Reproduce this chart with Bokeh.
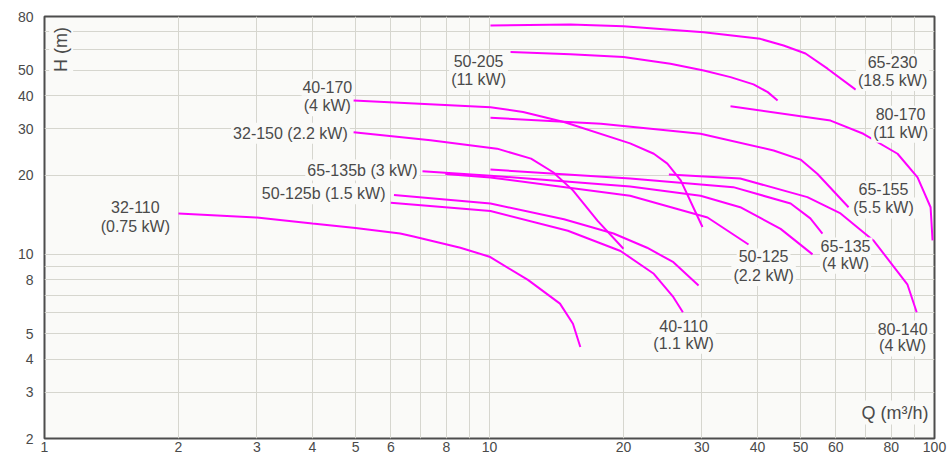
import math
from bokeh.plotting import figure
from bokeh.models import Range1d, FixedTicker, PrintfTickFormatter, Label
from bokeh.embed import file_html
from bokeh.resources import INLINE

# ---- tick values ----
x_ticks = [1, 2, 3, 4, 5, 6, 8, 10, 20, 30, 40, 50, 60, 80, 100]
y_ticks = [2, 3, 4, 5, 8, 10, 20, 30, 40, 50, 80]
x_grid = [2, 3, 4, 5, 6, 7, 8, 9, 10, 20, 30, 40, 50, 60, 70, 80, 90]
y_grid = [3, 4, 5, 6, 7, 8, 9, 10, 20, 30, 40, 50, 60, 70]

# ---- pump curves (Q in m3/h, H in m) ----
q_32_110 = [2, 3, 4, 5, 6.3, 6.75, 8.6, 10, 12.2, 14.4, 15.4, 16.0]
h_32_110 = [14.3, 13.8, 13.1, 12.6, 12.0, 11.7, 10.6, 9.8, 8.0, 6.5, 5.45, 4.45]

q_40_110 = [6.0, 10.05, 15.0, 19.7, 23.4, 25.9, 27.2]
h_40_110 = [15.7, 14.6, 12.3, 10.3, 8.44, 6.88, 6.03]

q_50_125b = [6.1, 10.05, 14.7, 19.0, 22.6, 25.9, 29.5]
h_50_125b = [16.8, 15.6, 13.6, 12.0, 10.6, 9.34, 7.62]

q_32_150 = [4.95, 7.37, 10.4, 12.4, 13.9, 15.4, 17.5, 20.0]
h_32_150 = [29.1, 27.1, 25.2, 23.1, 20.5, 17.5, 13.4, 10.5]

q_40_170 = [4.95, 10.05, 11.9, 14.7, 20.7, 23.4, 25.1, 26.9, 28.7, 30.1]
h_40_170 = [38.4, 36.2, 34.7, 31.8, 26.4, 24.1, 22.1, 19.1, 15.1, 12.7]

q_50_205 = [11.15, 15.2, 20.0, 25.5, 30.3, 34.8, 39.2, 42.2, 44.4]
h_50_205 = [58.6, 57.5, 56.1, 52.9, 49.9, 47.1, 44.2, 41.3, 38.4]

q_65_230 = [10.05, 15.2, 20, 30.3, 40.6, 45.8, 51.3, 57.5, 66.5]
h_65_230 = [74.0, 74.6, 73.5, 69.7, 65.8, 62.1, 57.9, 50.7, 42.2]

q_80_170 = [34.8, 58.4, 69.2, 82.6, 91.6, 98.0, 99.0]
h_80_170 = [36.5, 32.2, 28.7, 24.1, 19.6, 15.1, 11.3]

q_65_155 = [10.05, 17.8, 29.8, 43.5, 50.0, 54.6, 64.1]
h_65_155 = [33.0, 31.3, 28.7, 24.8, 22.9, 20.2, 15.1]

q_65_135 = [10.05, 20.7, 35.3, 47.5, 52.6, 56.0]
h_65_135 = [21.0, 19.4, 18.0, 15.6, 13.7, 12.0]

q_65_135b = [7.07, 10.05, 20.7, 29.8, 36.6, 45.1, 53.2]
h_65_135b = [20.7, 19.9, 18.1, 16.7, 15.1, 12.5, 10.0]

q_50_125 = [7.96, 10.05, 20.7, 30.9, 38.2]
h_50_125 = [20.2, 19.6, 16.7, 13.8, 10.9]

q_80_140 = [25.3, 36.6, 51.8, 61.5, 72.9, 86.9, 91.2]
h_80_140 = [20.1, 19.4, 16.5, 14.3, 11.3, 7.7, 6.03]

curves = [
    (q_32_110, h_32_110), (q_40_110, h_40_110), (q_50_125b, h_50_125b),
    (q_32_150, h_32_150), (q_40_170, h_40_170), (q_50_205, h_50_205),
    (q_65_230, h_65_230), (q_80_170, h_80_170), (q_65_155, h_65_155),
    (q_65_135, h_65_135), (q_65_135b, h_65_135b), (q_50_125, h_50_125),
    (q_80_140, h_80_140),
]

# ---- curve labels: text, Q, H ----
curve_labels = [
    ("32-110", 1.60, 15.1), ("(0.75 kW)", 1.60, 12.8),
    ("50-125b (1.5 kW)", 4.24, 17.0),
    ("65-135b (3 kW)", 5.18, 20.9),
    ("32-150 (2.2 kW)", 3.57, 28.8),
    ("40-170", 4.32, 43.1), ("(4 kW)", 4.32, 36.7),
    ("50-205", 9.45, 54.0), ("(11 kW)", 9.45, 46.0),
    ("65-230", 80.5, 53.7), ("(18.5 kW)", 80.5, 45.7),
    ("80-170", 83.9, 34.2), ("(11 kW)", 83.9, 29.1),
    ("65-155", 76.8, 17.7), ("(5.5 kW)", 76.8, 15.0),
    ("65-135", 63.1, 10.8), ("(4 kW)", 63.1, 9.26),
    ("50-125", 41.3, 9.82), ("(2.2 kW)", 41.3, 8.32),
    ("40-110", 27.3, 5.37), ("(1.1 kW)", 27.3, 4.60),
    ("80-140", 84.8, 5.23), ("(4 kW)", 84.8, 4.49),
]

BG = "#fafaf8"
TXT = "#4a4a4a"
FONT = "Liberation Sans"

p = figure(width=948, height=459, x_axis_type="log", y_axis_type="log",
           x_range=Range1d(1, 100), y_range=Range1d(2, 80),
           output_backend="svg", toolbar_location=None,
           min_border_left=44, min_border_right=14, min_border_top=16,
           min_border_bottom=21, background_fill_color=BG,
           border_fill_color="white")

p.outline_line_color = "#4d4d4d"
p.outline_line_width = 2

for ax in (p.xaxis[0], p.yaxis[0]):
    ax.axis_line_color = None
    ax.major_tick_line_color = None
    ax.minor_tick_line_color = None
    ax.major_tick_out = 0
    ax.major_label_text_font = FONT
    ax.major_label_text_font_size = "14px"
    ax.major_label_text_color = TXT
    ax.formatter = PrintfTickFormatter(format="%d")

p.xaxis[0].ticker = FixedTicker(ticks=x_ticks, minor_ticks=[])
p.yaxis[0].ticker = FixedTicker(ticks=y_ticks, minor_ticks=[])
p.xaxis[0].major_label_standoff = 3
p.yaxis[0].major_label_standoff = 11

p.xgrid[0].ticker = FixedTicker(ticks=x_grid, minor_ticks=[])
p.ygrid[0].ticker = FixedTicker(ticks=y_grid, minor_ticks=[])
for g in (p.xgrid[0], p.ygrid[0]):
    g.grid_line_color = "#d6d6cf"
    g.grid_line_width = 1

for q, h in curves:
    p.line(q, h, line_color="#ff00ff", line_width=2)

for t, x, y in curve_labels:
    p.add_layout(Label(x=x, y=y, text=t, text_align="center",
                       text_baseline="middle", text_font=FONT,
                       text_font_size="16px", text_color=TXT,
                       background_fill_color=BG, padding=2))

p.add_layout(Label(x=1.09, y=60, text="H (m)", angle=math.pi / 2,
                   text_align="center", text_baseline="middle",
                   text_font=FONT, text_font_size="18px", text_color=TXT,
                   background_fill_color=BG, padding=2))
p.add_layout(Label(x=98, y=2.51, text="Q (m³/h)", text_align="right",
                   text_baseline="middle", text_font=FONT,
                   text_font_size="18px", text_color=TXT,
                   background_fill_color=BG, padding=2))

open("out.html", "w").write(file_html(p, INLINE))
